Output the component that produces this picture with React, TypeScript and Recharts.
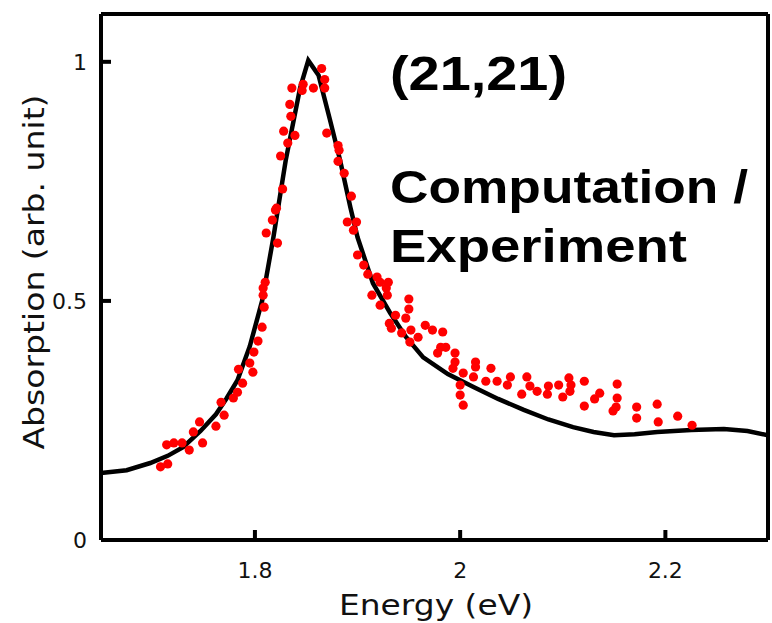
import React from 'react'
import {
  ComposedChart,
  Line,
  Scatter,
  XAxis,
  YAxis,
  Customized,
} from 'recharts'

// computed absorption (black curve)
const computation = [
  { x: 1.650, y: 0.140 }, { x: 1.675, y: 0.146 }, { x: 1.698, y: 0.161 },
  { x: 1.715, y: 0.176 }, { x: 1.730, y: 0.194 }, { x: 1.747, y: 0.228 },
  { x: 1.762, y: 0.263 }, { x: 1.772, y: 0.295 }, { x: 1.783, y: 0.334 },
  { x: 1.795, y: 0.405 }, { x: 1.807, y: 0.500 }, { x: 1.818, y: 0.633 },
  { x: 1.830, y: 0.794 }, { x: 1.844, y: 0.945 }, { x: 1.852, y: 1.003 },
  { x: 1.862, y: 0.972 }, { x: 1.873, y: 0.880 }, { x: 1.883, y: 0.794 },
  { x: 1.893, y: 0.696 }, { x: 1.900, y: 0.633 }, { x: 1.915, y: 0.537 },
  { x: 1.932, y: 0.474 }, { x: 1.947, y: 0.425 }, { x: 1.964, y: 0.382 },
  { x: 1.988, y: 0.347 }, { x: 2.013, y: 0.320 }, { x: 2.037, y: 0.295 },
  { x: 2.062, y: 0.272 }, { x: 2.086, y: 0.252 }, { x: 2.110, y: 0.236 },
  { x: 2.130, y: 0.226 }, { x: 2.150, y: 0.219 }, { x: 2.170, y: 0.221 },
  { x: 2.192, y: 0.226 }, { x: 2.225, y: 0.230 }, { x: 2.257, y: 0.232 },
  { x: 2.280, y: 0.228 }, { x: 2.300, y: 0.219 },
]

// measured absorption (red dots)
const experiment = [
  { x: 1.708, y: 0.153 }, { x: 1.715, y: 0.159 }, { x: 1.714, y: 0.199 },
  { x: 1.721, y: 0.203 }, { x: 1.729, y: 0.203 }, { x: 1.736, y: 0.188 },
  { x: 1.740, y: 0.226 }, { x: 1.746, y: 0.247 }, { x: 1.749, y: 0.203 },
  { x: 1.762, y: 0.238 }, { x: 1.770, y: 0.261 }, { x: 1.767, y: 0.288 },
  { x: 1.779, y: 0.297 }, { x: 1.783, y: 0.309 }, { x: 1.788, y: 0.328 },
  { x: 1.784, y: 0.357 }, { x: 1.798, y: 0.351 }, { x: 1.795, y: 0.370 },
  { x: 1.799, y: 0.393 }, { x: 1.803, y: 0.416 }, { x: 1.807, y: 0.445 },
  { x: 1.809, y: 0.487 }, { x: 1.808, y: 0.512 }, { x: 1.808, y: 0.527 },
  { x: 1.810, y: 0.539 }, { x: 1.822, y: 0.621 }, { x: 1.811, y: 0.642 },
  { x: 1.817, y: 0.669 }, { x: 1.820, y: 0.690 }, { x: 1.821, y: 0.694 },
  { x: 1.827, y: 0.734 }, { x: 1.825, y: 0.803 }, { x: 1.832, y: 0.830 },
  { x: 1.839, y: 0.846 }, { x: 1.828, y: 0.855 }, { x: 1.835, y: 0.886 },
  { x: 1.834, y: 0.911 }, { x: 1.836, y: 0.945 }, { x: 1.846, y: 0.940 },
  { x: 1.847, y: 0.953 }, { x: 1.857, y: 0.945 }, { x: 1.865, y: 0.986 },
  { x: 1.868, y: 0.963 }, { x: 1.868, y: 0.945 }, { x: 1.870, y: 0.851 },
  { x: 1.881, y: 0.825 }, { x: 1.882, y: 0.815 }, { x: 1.881, y: 0.792 },
  { x: 1.887, y: 0.767 }, { x: 1.894, y: 0.719 }, { x: 1.890, y: 0.665 },
  { x: 1.899, y: 0.665 }, { x: 1.896, y: 0.648 }, { x: 1.900, y: 0.596 },
  { x: 1.906, y: 0.575 }, { x: 1.910, y: 0.556 }, { x: 1.919, y: 0.550 },
  { x: 1.922, y: 0.539 }, { x: 1.930, y: 0.539 }, { x: 1.928, y: 0.527 },
  { x: 1.914, y: 0.512 }, { x: 1.929, y: 0.512 }, { x: 1.950, y: 0.504 },
  { x: 1.922, y: 0.491 }, { x: 1.950, y: 0.483 }, { x: 1.937, y: 0.470 },
  { x: 1.947, y: 0.464 }, { x: 1.931, y: 0.453 }, { x: 1.933, y: 0.443 },
  { x: 1.966, y: 0.449 }, { x: 1.973, y: 0.439 }, { x: 1.983, y: 0.435 },
  { x: 1.943, y: 0.433 }, { x: 1.952, y: 0.439 }, { x: 1.959, y: 0.424 },
  { x: 1.951, y: 0.414 }, { x: 1.981, y: 0.403 }, { x: 1.986, y: 0.403 },
  { x: 1.978, y: 0.391 }, { x: 1.995, y: 0.391 }, { x: 1.995, y: 0.372 },
  { x: 1.993, y: 0.359 }, { x: 2.003, y: 0.349 }, { x: 2.015, y: 0.372 },
  { x: 2.015, y: 0.362 }, { x: 2.013, y: 0.341 }, { x: 2.030, y: 0.359 },
  { x: 2.025, y: 0.332 }, { x: 2.036, y: 0.332 }, { x: 2.049, y: 0.341 },
  { x: 2.046, y: 0.324 }, { x: 2.065, y: 0.341 }, { x: 2.068, y: 0.322 },
  { x: 2.075, y: 0.311 }, { x: 2.060, y: 0.305 }, { x: 2.086, y: 0.322 },
  { x: 2.085, y: 0.305 }, { x: 2.096, y: 0.324 }, { x: 2.100, y: 0.299 },
  { x: 2.106, y: 0.339 }, { x: 2.000, y: 0.324 }, { x: 2.000, y: 0.303 },
  { x: 2.003, y: 0.282 }, { x: 2.108, y: 0.324 }, { x: 2.107, y: 0.311 },
  { x: 2.121, y: 0.332 }, { x: 2.136, y: 0.307 }, { x: 2.131, y: 0.295 },
  { x: 2.121, y: 0.280 }, { x: 2.153, y: 0.326 }, { x: 2.153, y: 0.297 },
  { x: 2.152, y: 0.278 }, { x: 2.149, y: 0.270 }, { x: 2.172, y: 0.278 },
  { x: 2.172, y: 0.255 }, { x: 2.192, y: 0.284 }, { x: 2.193, y: 0.247 },
  { x: 2.212, y: 0.259 }, { x: 2.226, y: 0.240 },
]

const xTicks = [1.8, 2, 2.2]
const yTicks = [0, 0.5, 1]
const xDomain = [1.65, 2.3]
const yDomain = [0, 1.1]

const axisFont = "'DejaVu Sans', sans-serif"
const boldFont = "'Liberation Sans', Arial, sans-serif"
const axisLine = { stroke: '#000', strokeWidth: 4 }
const tickStyle = { fill: '#111', fontSize: 22, fontFamily: axisFont }

const Dot = (props: any) => (
  <circle cx={props.cx} cy={props.cy} r={4.6} fill="#ff0000" />
)

const Annotations = () => (
  <g>
    <text x={390} y={90} fontFamily={boldFont} fontWeight="bold" fontSize={48}
      textLength={177} lengthAdjust="spacingAndGlyphs">(21,21)</text>
    <text x={390} y={203} fontFamily={boldFont} fontWeight="bold" fontSize={46}
      textLength={358} lengthAdjust="spacingAndGlyphs">Computation /</text>
    <text x={390} y={262} fontFamily={boldFont} fontWeight="bold" fontSize={46}
      textLength={297} lengthAdjust="spacingAndGlyphs">Experiment</text>
    <text x={436} y={615} textAnchor="middle" fontFamily={axisFont} fontSize={29}
      fill="#111" textLength={194} lengthAdjust="spacingAndGlyphs">Energy (eV)</text>
    <text x={44} y={272} textAnchor="middle" fontFamily={axisFont} fontSize={29}
      fill="#111" transform="rotate(-90 44 272)" textLength={355}
      lengthAdjust="spacingAndGlyphs">Absorption (arb. unit)</text>
  </g>
)

export default function App() {
  return (
    <div style={{ position: 'absolute', left: 0, top: 0, background: '#fff' }}>
      <ComposedChart width={772} height={623} margin={{ top: 0, right: 0, bottom: 0, left: 0 }}>
        <XAxis dataKey="x" type="number" domain={xDomain} ticks={xTicks} allowDataOverflow
          height={83} axisLine={axisLine} tickLine={axisLine} tickSize={-10} tickMargin={32}
          tick={tickStyle} tickFormatter={(v) => String(v)} />
        <XAxis xAxisId="top" orientation="top" dataKey="x" type="number" domain={xDomain}
          ticks={xTicks} allowDataOverflow height={14} axisLine={axisLine} tickLine={axisLine}
          tickSize={-10} tick={false} />
        <YAxis dataKey="y" type="number" domain={yDomain} ticks={yTicks} allowDataOverflow
          width={101} axisLine={axisLine} tickLine={axisLine} tickSize={-10} tickMargin={24}
          tick={tickStyle} />
        <YAxis yAxisId="right" orientation="right" type="number" domain={yDomain} ticks={yTicks}
          allowDataOverflow width={4} axisLine={axisLine} tickLine={axisLine} tickSize={-10}
          tick={false} />
        <Scatter data={experiment} dataKey="y" shape={Dot} isAnimationActive={false} />
        <Line data={computation} dataKey="y" type="linear" stroke="#000" strokeWidth={4.5}
          dot={false} isAnimationActive={false} />
        <Customized component={Annotations} />
      </ComposedChart>
    </div>
  )
}
